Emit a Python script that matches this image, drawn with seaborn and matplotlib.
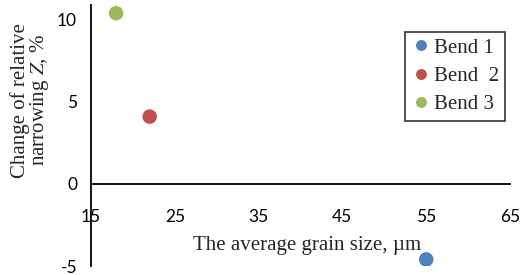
import numpy as np
import pandas as pd
import matplotlib
matplotlib.use('Agg')
import matplotlib.pyplot as plt
import seaborn as sns

# data
bends = ['Bend 1', 'Bend  2', 'Bend 3']
grain_size = [55, 22, 18]
narrowing = [-4.6, 4.1, 10.4]
colors = ['#4F81BD', '#C0504D', '#9BBB59']

x_ticks = [15, 25, 35, 45, 55, 65]
y_ticks = [-5, 0, 5, 10]

sns.set_style('white')
plt.rcParams['font.family'] = ['Liberation Serif', 'DejaVu Serif']
plt.rcParams['mathtext.fontset'] = 'stix'
plt.rcParams['axes.unicode_minus'] = False

df = pd.DataFrame({'bend': bends, 'size': grain_size, 'z': narrowing})

fig = plt.figure(figsize=(5.22, 2.75), dpi=100)
ax = fig.add_axes([0.1743, 0.0327, 0.977 - 0.1743, 0.982 - 0.0327])

sns.scatterplot(data=df, x='size', y='z', hue='bend', hue_order=bends,
                palette=colors, s=110, edgecolor='none', ax=ax, zorder=3)

ax.set_xlim(15, 65)
ax.set_ylim(-5, 10.9)
ax.set_xticks(x_ticks)
ax.set_yticks(y_ticks)

# axes cross at y = 0 like in Excel
ax.spines['bottom'].set_position(('data', 0))
ax.spines['top'].set_visible(False)
ax.spines['right'].set_visible(False)
for s in ['left', 'bottom']:
    ax.spines[s].set_color('black')
    ax.spines[s].set_linewidth(1.3)

ax.tick_params(axis='x', direction='out', length=5, width=1.3, pad=13,
               labelsize=12.5, colors='black')
ax.tick_params(axis='y', direction='out', length=5, width=1.3, pad=5,
               labelsize=12.5, colors='black')
for lab in ax.get_xticklabels() + ax.get_yticklabels():
    lab.set_family(['Lato', 'DejaVu Sans'])

ax.set_xlabel('')
ax.set_ylabel('')
fig.text(0.589, 0.109, 'The average grain size, µm', ha='center', va='center',
         fontsize=15)
fig.text(0.058, 0.636, 'Change of relative\nnarrowing $\\it{Z}$, %', ha='center',
         va='center', rotation=90, fontsize=15, linespacing=0.88)

leg = ax.legend(loc='upper right', bbox_to_anchor=(0.988, 0.897),
                frameon=True, fancybox=False, fontsize=15, handletextpad=0.15,
                markerscale=0.75, labelspacing=0.42, borderpad=0.3,
                handlelength=0.9, borderaxespad=0)
leg.get_frame().set_edgecolor('black')
leg.get_frame().set_linewidth(1.2)

fig.savefig('out.png', dpi=100)
